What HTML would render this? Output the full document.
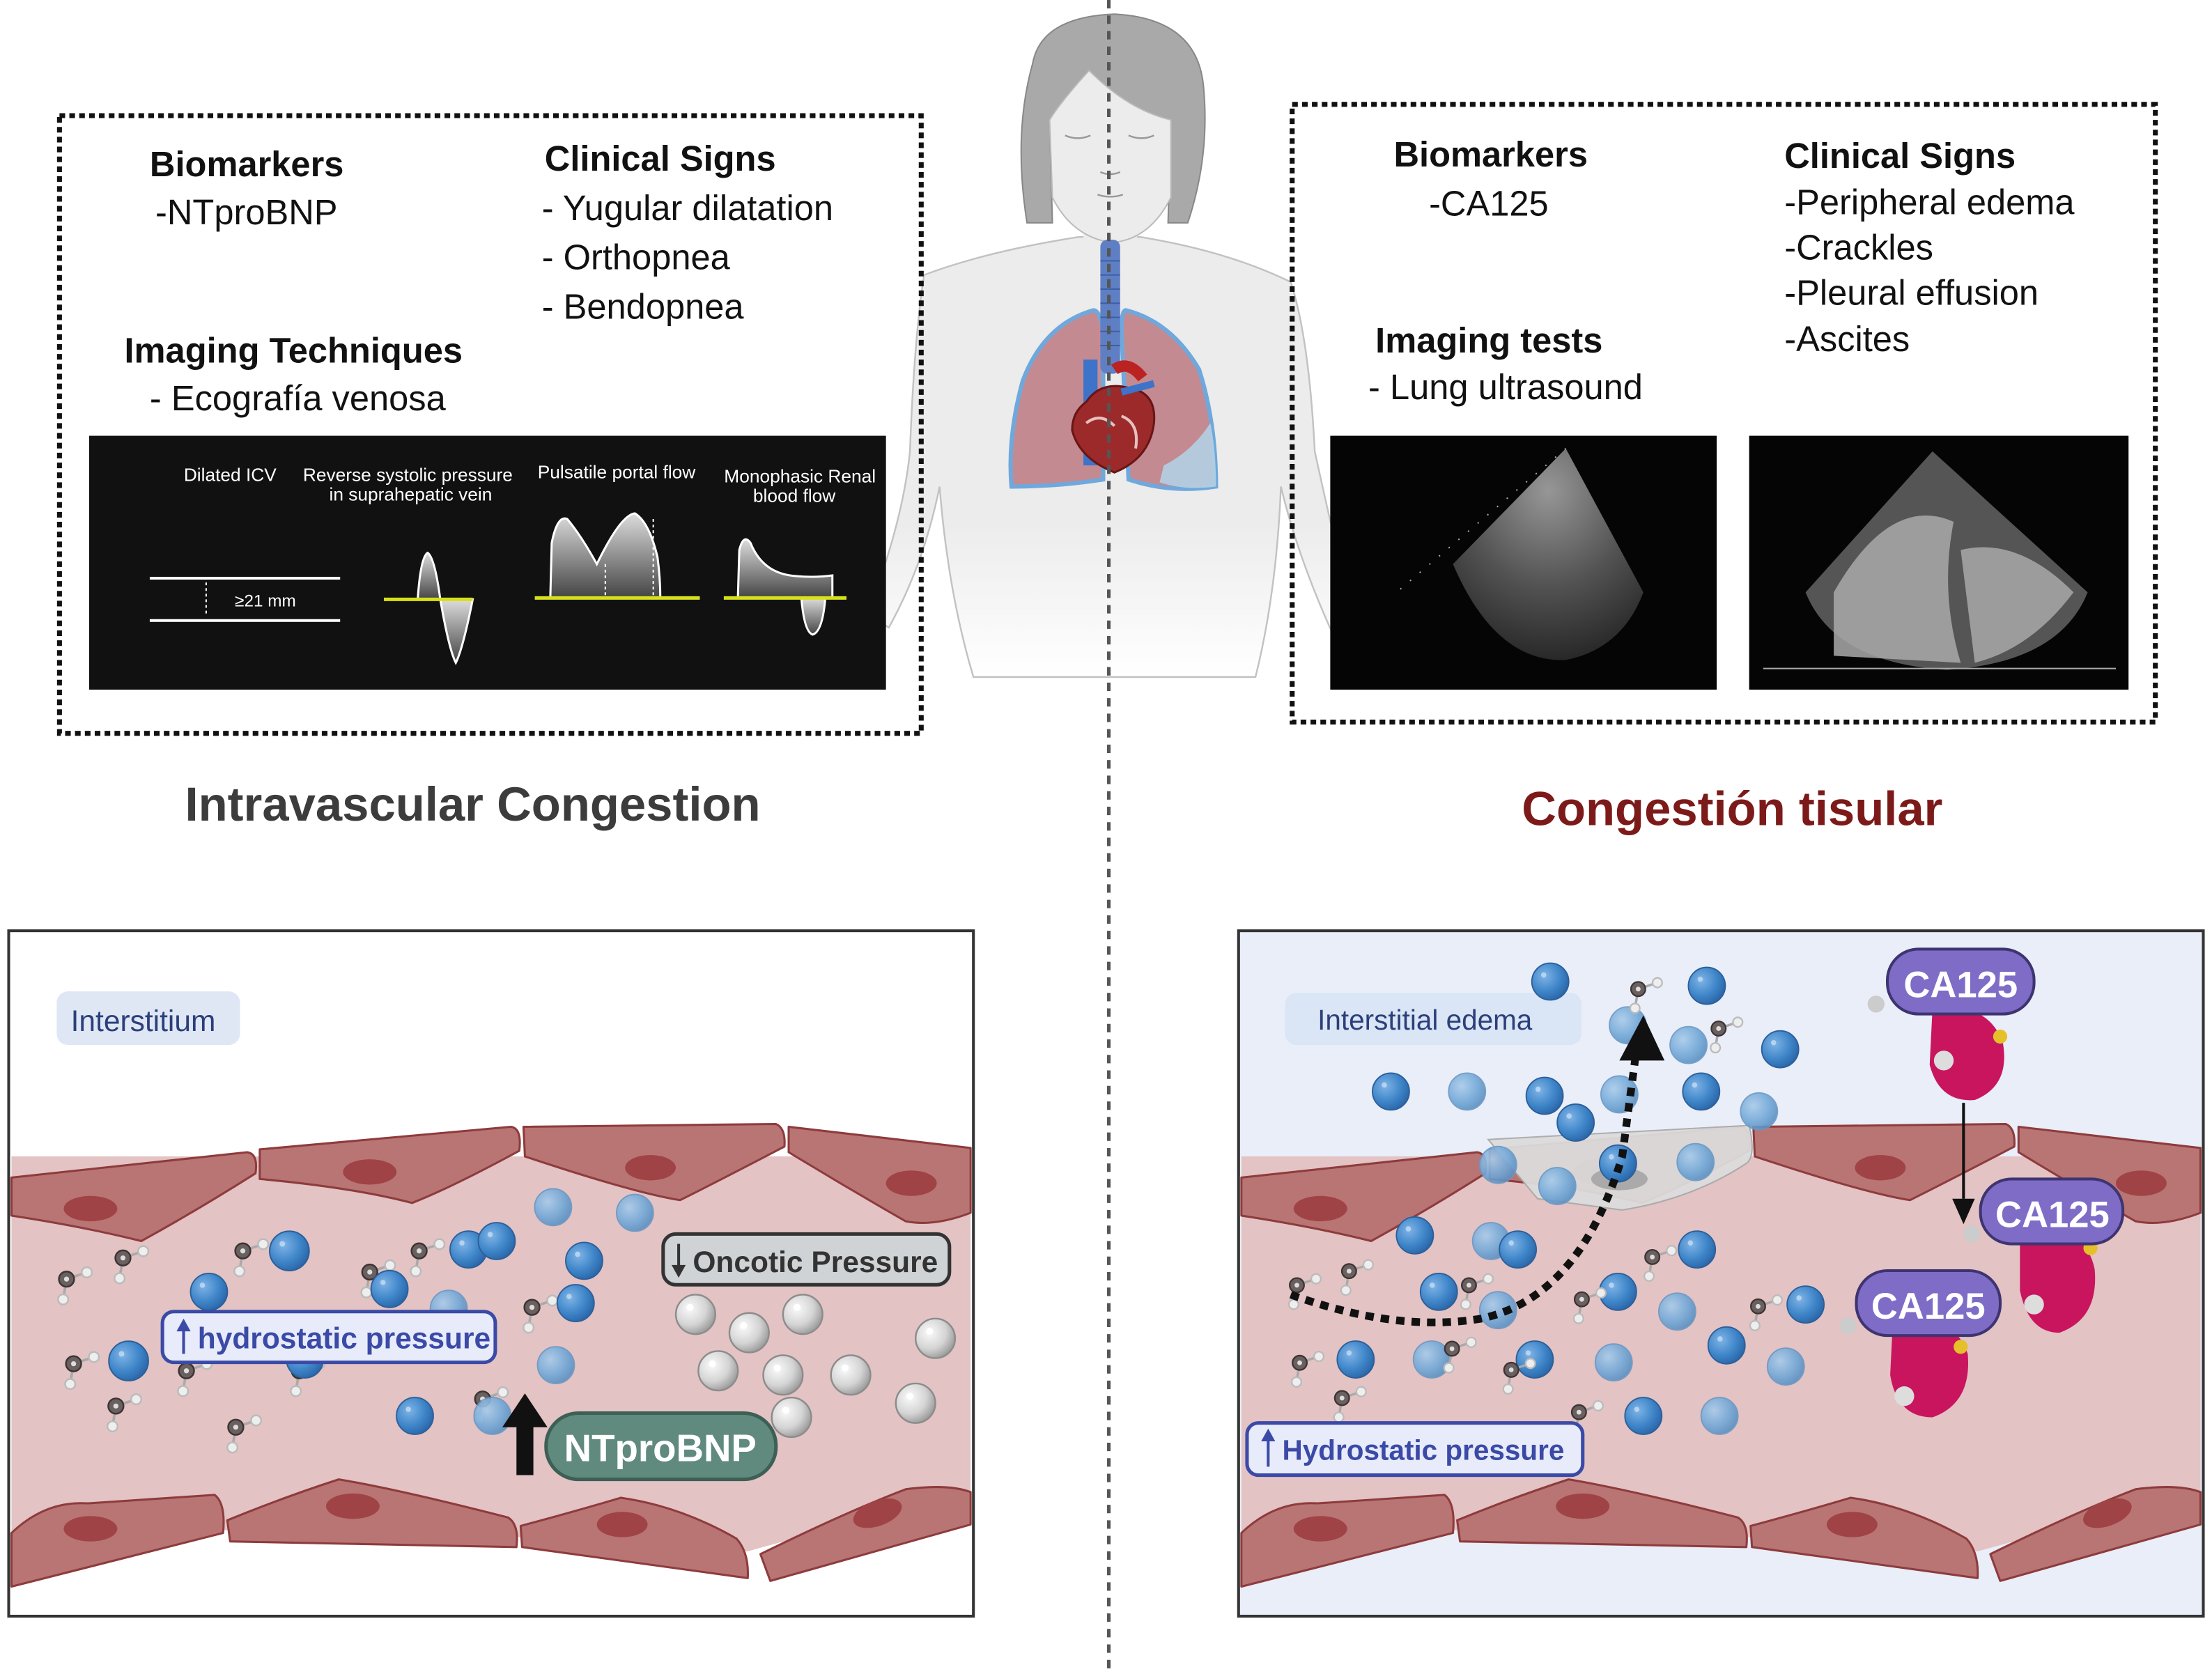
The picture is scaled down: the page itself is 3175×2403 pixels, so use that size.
<!DOCTYPE html>
<html><head><meta charset="utf-8">
<style>
html,body{margin:0;padding:0;background:#fff;}
svg{display:block;}
text{font-family:"Liberation Sans",sans-serif;}
</style></head>
<body>
<svg width="3175" height="2403" viewBox="0 0 1568 1187" xmlns="http://www.w3.org/2000/svg">
<defs>
 <radialGradient id="bs" cx="0.35" cy="0.35" r="0.7"><stop offset="0" stop-color="#7fb3e6"/><stop offset="0.6" stop-color="#3f86c9"/><stop offset="1" stop-color="#2a66a8"/></radialGradient>
 <radialGradient id="bl" cx="0.35" cy="0.35" r="0.7"><stop offset="0" stop-color="#a9cbea"/><stop offset="0.6" stop-color="#74a9d8"/><stop offset="1" stop-color="#5a8fc0"/></radialGradient>
 <radialGradient id="gs" cx="0.35" cy="0.35" r="0.7"><stop offset="0" stop-color="#fafafa"/><stop offset="0.6" stop-color="#d4d4d4"/><stop offset="1" stop-color="#9a9a9a"/></radialGradient>
 <radialGradient id="us" cx="0.5" cy="0.2" r="0.9"><stop offset="0" stop-color="#bbb"/><stop offset="0.5" stop-color="#666"/><stop offset="1" stop-color="#222"/></radialGradient>
 <linearGradient id="wave" x1="0" y1="0" x2="0" y2="1"><stop offset="0" stop-color="#ddd"/><stop offset="1" stop-color="#444"/></linearGradient>
 <linearGradient id="bodyfade" x1="0" y1="0" x2="0" y2="1"><stop offset="0.65" stop-color="#ececec"/><stop offset="1" stop-color="#fff"/></linearGradient>
 <symbol id="b" viewBox="0 0 30 30" overflow="visible"><circle cx="15" cy="15" r="14" fill="url(#bs)" stroke="#2c5f9a" stroke-width="1"/><circle cx="10" cy="10" r="2" fill="#cfe3f5" opacity="0.7"/></symbol>
 <symbol id="l" viewBox="0 0 30 30" overflow="visible"><circle cx="15" cy="15" r="14" fill="url(#bl)" stroke="#6a97c4" stroke-width="1" opacity="0.9"/></symbol>
 <symbol id="g" viewBox="0 0 30 30" overflow="visible"><circle cx="15" cy="15" r="14" fill="url(#gs)" stroke="#8c8c8c" stroke-width="1.2"/><circle cx="11" cy="10" r="2.5" fill="#fff"/></symbol>
 <symbol id="w" viewBox="0 0 30 30" overflow="visible"><line x1="10" y1="10" x2="22" y2="6" stroke="#aaa" stroke-width="1.5"/><line x1="10" y1="10" x2="8" y2="22" stroke="#aaa" stroke-width="1.5"/><circle cx="10" cy="10" r="4.5" fill="#6b6060" stroke="#3c3434"/><circle cx="10" cy="10" r="1.5" fill="#ddd"/><circle cx="22" cy="6" r="3" fill="#eee" stroke="#bbb"/><circle cx="8" cy="22" r="3" fill="#eee" stroke="#bbb"/></symbol>
 <g id="vessel">
  <path d="M8,820 H688 V1065 Q600,1080 530,1100 L370,1090 L160,1085 L8,1100 Z" fill="#e3c3c3"/>
  <g fill="#b87573" stroke="#8e3b3d" stroke-width="1.5" stroke-linejoin="round">
   <path d="M8,835 L175,817 Q183,818 181,832 Q140,858 100,880 Q60,870 8,862 Z"/>
   <path d="M184,815 L362,799 Q370,800 368,816 Q320,842 292,853 Q250,842 184,836 Z"/>
   <path d="M371,799 L550,797 Q557,800 556,813 Q512,836 482,851 Q450,846 372,820 Z"/>
   <path d="M559,799 L688,814 V860 Q662,870 642,866 Q600,842 559,817 Z"/>
   <path d="M8,1087 Q32,1064 62,1066 L152,1060 Q160,1066 158,1087 L8,1125 Z"/>
   <path d="M161,1078 Q200,1062 240,1049 Q282,1056 360,1076 Q368,1081 366,1097 L163,1093 Z"/>
   <path d="M369,1082 Q410,1071 440,1062 Q482,1068 522,1091 Q531,1101 530,1119 L370,1097 Z"/>
   <path d="M539,1102 Q600,1072 642,1056 Q672,1052 688,1058 V1081 L546,1121 Z"/>
  </g>
  <g fill="#a04346">
   <ellipse cx="64" cy="857" rx="19" ry="9"/><ellipse cx="262" cy="831" rx="19" ry="9"/>
   <ellipse cx="461" cy="828" rx="18" ry="9"/><ellipse cx="646" cy="839" rx="18" ry="9"/>
   <ellipse cx="64" cy="1084" rx="19" ry="9"/><ellipse cx="250" cy="1068" rx="19" ry="9"/>
   <ellipse cx="441" cy="1081" rx="18" ry="9"/><ellipse cx="622" cy="1073" rx="18" ry="9" transform="rotate(-20 622 1073)"/>
  </g>
 </g>
</defs>

<!-- Person -->
<g>
 <path d="M655,195 Q700,178 765,168 L808,168 Q870,178 915,200 Q928,240 932,320 Q945,380 960,440 L945,450 Q920,395 908,345 Q905,420 890,480 L690,480 Q672,420 666,345 Q655,400 630,445 L615,435 Q640,370 645,320 Q648,240 655,195 Z" fill="url(#bodyfade)" stroke="#c2c2c2" stroke-width="1.2"/>
 <rect x="768" y="130" width="38" height="45" fill="#ececec"/>
 <path d="M732,45 Q738,12 790,10 Q848,13 853,60 Q858,110 842,158 L828,158 L830,85 Q800,78 772,50 Q752,72 744,85 L746,158 L728,158 Q718,95 732,45 Z" fill="#a9a9a9" stroke="#888" stroke-width="1"/>
 <path d="M744,85 Q752,72 772,50 Q800,78 830,85 L830,140 Q815,170 788,172 Q760,168 746,140 Z" fill="#ececec" stroke="#bbb" stroke-width="1"/>
 <path d="M755,96 Q764,100 773,96 M800,96 Q809,100 818,96 M780,122 Q787,125 794,122 M778,138 Q787,141 796,138" stroke="#999" stroke-width="1.2" fill="none"/>
 <path d="M775,220 Q740,230 725,270 Q714,310 717,345 Q750,345 782,340 L782,235 Q780,220 775,220 Z" fill="#c48a92" stroke="#6fa8dc" stroke-width="3"/>
 <path d="M798,220 Q830,228 850,262 Q862,300 862,345 Q830,350 800,340 L795,235 Q795,220 798,220 Z" fill="#c48a92" stroke="#6fa8dc" stroke-width="3"/>
 <path d="M825,330 Q845,320 858,300 Q862,320 862,345 Q840,348 822,342 Z" fill="#b3d0e4" opacity="0.9"/>
 <rect x="780" y="170" width="14" height="95" rx="5" fill="#5f7fc4"/>
 <g stroke="#3e5ea6" stroke-width="1"><line x1="780" y1="185" x2="794" y2="185"/><line x1="780" y1="195" x2="794" y2="195"/><line x1="780" y1="205" x2="794" y2="205"/><line x1="780" y1="215" x2="794" y2="215"/><line x1="780" y1="225" x2="794" y2="225"/><line x1="780" y1="235" x2="794" y2="235"/><line x1="780" y1="245" x2="794" y2="245"/></g>
 <rect x="768" y="255" width="10" height="75" fill="#3d73c9"/>
 <path d="M790,262 Q800,255 810,268" stroke="#b22" stroke-width="8" fill="none"/>
 <path d="M770,285 Q780,270 800,275 Q820,278 818,300 Q815,325 790,335 Q765,325 760,305 Q760,292 770,285 Z" fill="#9c2a2a" stroke="#6a1515" stroke-width="1.5"/>
 <path d="M770,300 Q780,292 790,302 M795,295 Q808,300 805,318" stroke="#e7c0c0" stroke-width="2" fill="none"/>
 <line x1="795" y1="278" x2="818" y2="272" stroke="#3d73c9" stroke-width="5"/>
</g>
<line x1="786" y1="0" x2="786" y2="1187" stroke="#555" stroke-width="2.5" stroke-dasharray="6,5"/>

<!-- Left dotted box -->
<rect x="42" y="82" width="611" height="438" fill="#fff" fill-opacity="0" stroke="#111" stroke-width="3.5" stroke-dasharray="4,3"/>
<text x="106" y="125" font-size="25" font-weight="bold" fill="#111">Biomarkers</text>
<text x="110" y="159" font-size="25" fill="#111">-NTproBNP</text>
<text x="386" y="121" font-size="25" font-weight="bold" fill="#111">Clinical Signs</text>
<text x="384" y="156" font-size="25" fill="#111">- Yugular dilatation</text>
<text x="384" y="191" font-size="25" fill="#111">- Orthopnea</text>
<text x="384" y="226" font-size="25" fill="#111">- Bendopnea</text>
<text x="88" y="257" font-size="25" font-weight="bold" fill="#111">Imaging Techniques</text>
<text x="106" y="291" font-size="25" fill="#111">- Ecografía venosa</text>

<rect x="63" y="309" width="565" height="180" fill="#111"/>
<g fill="#fff" font-size="13" text-anchor="middle">
 <text x="163" y="341">Dilated ICV</text>
 <text x="289" y="341">Reverse systolic pressure</text>
 <text x="291" y="355">in suprahepatic vein</text>
 <text x="437" y="339">Pulsatile portal flow</text>
 <text x="567" y="342">Monophasic Renal</text>
 <text x="563" y="356">blood flow</text>
 <text x="188" y="430" font-size="12">≥21 mm</text>
</g>
<line x1="106" y1="410" x2="241" y2="410" stroke="#fff" stroke-width="2"/>
<line x1="106" y1="440" x2="241" y2="440" stroke="#fff" stroke-width="2"/>
<line x1="146" y1="413" x2="146" y2="437" stroke="#fff" stroke-width="1" stroke-dasharray="2,2"/>
<path d="M272,425 L296,425 Q298,395 303,392 Q308,395 312,425 Z" fill="url(#wave)" stroke="#fff" stroke-width="1.5"/>
<path d="M312,425 L335,425 Q328,460 323,470 Q318,460 312,425 Z" fill="url(#wave)" stroke="#fff" stroke-width="1.5"/>
<path d="M390,424 L391,385 Q395,365 402,368 Q412,380 423,400 Q440,365 450,364 Q460,370 466,395 Q468,410 468,424 Z" fill="url(#wave)" stroke="#fff" stroke-width="1.5"/>
<line x1="429" y1="400" x2="429" y2="424" stroke="#fff" stroke-dasharray="2,2"/>
<line x1="463" y1="368" x2="463" y2="424" stroke="#fff" stroke-dasharray="2,2"/>
<path d="M523,424 L524,390 Q527,378 532,385 Q540,405 560,408 Q575,410 590,408 L590,424 Z" fill="url(#wave)" stroke="#fff" stroke-width="1.5"/>
<path d="M568,424 L585,424 Q583,448 576,450 Q570,448 568,424 Z" fill="url(#wave)" stroke="#fff" stroke-width="1.5"/>
<g stroke="#d6e11a" stroke-width="2.5"><line x1="272" y1="425" x2="335" y2="425"/><line x1="379" y1="424" x2="496" y2="424"/><line x1="513" y1="424" x2="600" y2="424"/></g>

<!-- Right dotted box -->
<rect x="916" y="74" width="612" height="438" fill="none" stroke="#111" stroke-width="3.5" stroke-dasharray="4,3"/>
<text x="988" y="118" font-size="25" font-weight="bold" fill="#111">Biomarkers</text>
<text x="1013" y="153" font-size="25" fill="#111">-CA125</text>
<text x="1265" y="119" font-size="25" font-weight="bold" fill="#111">Clinical Signs</text>
<text x="1265" y="152" font-size="25" fill="#111">-Peripheral edema</text>
<text x="1265" y="184" font-size="25" fill="#111">-Crackles</text>
<text x="1265" y="216" font-size="25" fill="#111">-Pleural effusion</text>
<text x="1265" y="249" font-size="25" fill="#111">-Ascites</text>
<text x="975" y="250" font-size="25" font-weight="bold" fill="#111">Imaging tests</text>
<text x="970" y="283" font-size="25" fill="#111">- Lung ultrasound</text>
<rect x="943" y="309" width="274" height="180" fill="#050505"/>
<path d="M1110,318 L1030,400 Q1060,470 1110,468 Q1150,460 1165,420 Z" fill="url(#us)" opacity="0.8"/>
<line x1="1110" y1="318" x2="990" y2="420" stroke="#aaa" stroke-width="1" stroke-dasharray="1,8"/>
<rect x="1240" y="309" width="269" height="180" fill="#050505"/>
<path d="M1370,320 L1280,420 Q1300,470 1380,475 Q1460,470 1480,420 Z" fill="#555"/>
<path d="M1300,420 Q1340,350 1385,370 Q1375,420 1390,470 L1300,465 Z" fill="#aaa" opacity="0.85"/>
<path d="M1390,390 Q1430,380 1470,420 Q1440,460 1400,470 Z" fill="#bbb" opacity="0.7"/>
<line x1="1250" y1="474" x2="1500" y2="474" stroke="#aaa" stroke-width="1"/>

<text x="335" y="582" font-size="34" font-weight="bold" fill="#3c3c3c" text-anchor="middle">Intravascular Congestion</text>
<text x="1228" y="585" font-size="34" font-weight="bold" fill="#7c1a1a" text-anchor="middle">Congestión tisular</text>

<!-- Bottom left panel -->
<rect x="6" y="660" width="684" height="486" fill="#fff"/>
<use href="#vessel"/>
<rect x="6" y="660" width="684" height="486" fill="none" stroke="#333" stroke-width="2"/>
<rect x="40" y="703" width="130" height="38" rx="8" fill="#dfe7f5"/>
<text x="50" y="731" font-size="21" fill="#2b3f7a">Interstitium</text>
<g>
 <use href="#w" x="35" y="895" width="36" height="36"/><use href="#w" x="75" y="880" width="36" height="36"/>
 <use href="#w" x="160" y="875" width="36" height="36"/><use href="#w" x="250" y="890" width="36" height="36"/>
 <use href="#w" x="285" y="875" width="36" height="36"/><use href="#w" x="40" y="955" width="36" height="36"/>
 <use href="#w" x="70" y="985" width="36" height="36"/><use href="#w" x="155" y="1000" width="36" height="36"/>
 <use href="#w" x="365" y="915" width="36" height="36"/><use href="#w" x="330" y="980" width="36" height="36"/>
 <use href="#w" x="120" y="960" width="36" height="36"/><use href="#w" x="200" y="960" width="36" height="36"/>
 <use href="#l" x="378" y="842" width="28" height="28"/><use href="#l" x="436" y="846" width="28" height="28"/>
 <use href="#b" x="190" y="872" width="30" height="30"/><use href="#b" x="318" y="872" width="28" height="28"/>
 <use href="#b" x="338" y="866" width="28" height="28"/><use href="#b" x="400" y="880" width="28" height="28"/>
 <use href="#b" x="394" y="910" width="28" height="28"/><use href="#b" x="134" y="902" width="28" height="28"/>
 <use href="#b" x="262" y="900" width="28" height="28"/><use href="#l" x="304" y="914" width="28" height="28"/>
 <use href="#b" x="76" y="950" width="30" height="30"/><use href="#l" x="380" y="954" width="28" height="28"/>
 <use href="#b" x="280" y="990" width="28" height="28"/><use href="#l" x="335" y="990" width="28" height="28"/>
 <use href="#b" x="202" y="950" width="28" height="28"/>
 <use href="#g" x="478" y="917" width="30" height="30"/><use href="#g" x="516" y="930" width="30" height="30"/>
 <use href="#g" x="554" y="917" width="30" height="30"/><use href="#g" x="494" y="957" width="30" height="30"/>
 <use href="#g" x="540" y="960" width="30" height="30"/><use href="#g" x="588" y="960" width="30" height="30"/>
 <use href="#g" x="648" y="934" width="30" height="30"/><use href="#g" x="634" y="980" width="30" height="30"/>
 <use href="#g" x="546" y="990" width="30" height="30"/>
</g>
<rect x="470" y="875" width="203" height="36" rx="9" fill="#cfd3d6" stroke="#333" stroke-width="2.5"/>
<path d="M481,882 V900" stroke="#333" stroke-width="2"/><path d="M476,897 L481,906 L486,897 Z" fill="#333"/>
<text x="491" y="902" font-size="21" font-weight="bold" fill="#333">Oncotic Pressure</text>
<rect x="115" y="930" width="236" height="36" rx="8" fill="#e8ebfa" stroke="#3a4aa6" stroke-width="2.5"/>
<path d="M130,960 V942" stroke="#3a4aa6" stroke-width="2"/><path d="M125,944 L130,935 L135,944 Z" fill="#3a4aa6"/>
<text x="140" y="956" font-size="21" font-weight="bold" fill="#3a4aa6">hydrostatic pressure</text>
<path d="M366,1046 L366,1012 L356,1012 L372,988 L388,1012 L378,1012 L378,1046 Z" fill="#111"/>
<rect x="387" y="1002" width="163" height="47" rx="23" fill="#5f8a7d" stroke="#3d5f55" stroke-width="2.5"/>
<text x="468" y="1036" font-size="27" font-weight="bold" fill="#fff" text-anchor="middle">NTproBNP</text>

<!-- Bottom right panel -->
<rect x="878" y="660" width="684" height="486" fill="#e9eef9"/>
<g transform="translate(872,0)"><use href="#vessel"/></g>
<path d="M1055,808 L1240,798 Q1245,820 1238,825 Q1200,850 1150,858 L1090,850 Z" fill="#dcdcdc" stroke="#aaa" stroke-width="1" opacity="0.95"/>
<ellipse cx="1148" cy="836" rx="20" ry="8" fill="#aaa"/>
<rect x="878" y="660" width="684" height="486" fill="none" stroke="#333" stroke-width="2"/>
<rect x="911" y="704" width="210" height="37" rx="8" fill="#dae5f5"/>
<text x="934" y="730" font-size="20" fill="#2b3f7a">Interstitial edema</text>
<g>
 <use href="#b" x="1085" y="682" width="28" height="28"/><use href="#b" x="1196" y="685" width="28" height="28"/>
 <use href="#l" x="1140" y="713" width="28" height="28"/><use href="#l" x="1183" y="727" width="28" height="28"/>
 <use href="#b" x="1248" y="730" width="28" height="28"/><use href="#b" x="972" y="760" width="28" height="28"/>
 <use href="#l" x="1026" y="760" width="28" height="28"/><use href="#b" x="1081" y="763" width="28" height="28"/>
 <use href="#l" x="1134" y="762" width="28" height="28"/><use href="#b" x="1192" y="760" width="28" height="28"/>
 <use href="#l" x="1233" y="774" width="28" height="28"/><use href="#b" x="1103" y="782" width="28" height="28"/>
 <use href="#l" x="1048" y="812" width="28" height="28"/><use href="#b" x="1133" y="811" width="28" height="28"/>
 <use href="#l" x="1188" y="810" width="28" height="28"/><use href="#l" x="1090" y="827" width="28" height="28"/>
 <use href="#w" x="1150" y="690" width="34" height="34"/><use href="#w" x="1207" y="718" width="34" height="34"/>
 <use href="#b" x="989" y="862" width="28" height="28"/><use href="#l" x="1043" y="866" width="28" height="28"/>
 <use href="#b" x="1062" y="872" width="28" height="28"/><use href="#b" x="1189" y="872" width="28" height="28"/>
 <use href="#b" x="1006" y="902" width="28" height="28"/><use href="#l" x="1048" y="915" width="28" height="28"/>
 <use href="#b" x="1133" y="902" width="28" height="28"/><use href="#l" x="1175" y="916" width="28" height="28"/>
 <use href="#b" x="1266" y="911" width="28" height="28"/><use href="#b" x="1210" y="940" width="28" height="28"/>
 <use href="#b" x="947" y="950" width="28" height="28"/><use href="#l" x="1001" y="950" width="28" height="28"/>
 <use href="#b" x="1074" y="950" width="28" height="28"/><use href="#l" x="1130" y="952" width="28" height="28"/>
 <use href="#l" x="1252" y="955" width="28" height="28"/><use href="#b" x="1151" y="990" width="28" height="28"/>
 <use href="#l" x="1205" y="990" width="28" height="28"/>
 <use href="#w" x="908" y="900" width="34" height="34"/><use href="#w" x="945" y="890" width="34" height="34"/>
 <use href="#w" x="1030" y="900" width="34" height="34"/><use href="#w" x="1110" y="910" width="34" height="34"/>
 <use href="#w" x="1160" y="880" width="34" height="34"/><use href="#w" x="1235" y="915" width="34" height="34"/>
 <use href="#w" x="910" y="955" width="34" height="34"/><use href="#w" x="1060" y="960" width="34" height="34"/>
 <use href="#w" x="1018" y="945" width="34" height="34"/><use href="#w" x="1108" y="990" width="34" height="34"/>
 <use href="#w" x="940" y="980" width="34" height="34"/>
</g>
<path d="M915,918 Q990,945 1050,935 Q1120,920 1150,820 L1160,745" stroke="#111" stroke-width="5.5" fill="none" stroke-dasharray="6,5"/>
<path d="M1148,752 L1165,720 L1180,752 Z" fill="#111"/>
<rect x="884" y="1009" width="238" height="37" rx="8" fill="#e8ebfa" stroke="#3a4aa6" stroke-width="2.5"/>
<path d="M899,1040 V1020" stroke="#3a4aa6" stroke-width="2"/><path d="M894,1022 L899,1013 L904,1022 Z" fill="#3a4aa6"/>
<text x="909" y="1035" font-size="20" font-weight="bold" fill="#3a4aa6">Hydrostatic pressure</text>
<g>
 <path d="M1370,715 Q1410,710 1420,740 Q1425,770 1400,780 Q1375,782 1368,755 Z" fill="#c8155e"/>
 <circle cx="1378" cy="752" r="7" fill="#ddd"/><circle cx="1418" cy="735" r="5" fill="#e5c02a"/>
 <path d="M1432,870 Q1478,866 1485,900 Q1488,935 1460,945 Q1438,945 1432,915 Z" fill="#c8155e"/>
 <circle cx="1442" cy="925" r="7" fill="#ddd"/><circle cx="1482" cy="885" r="5" fill="#e5c02a"/>
 <path d="M1342,935 Q1385,930 1395,960 Q1398,995 1370,1005 Q1345,1005 1340,975 Z" fill="#c8155e"/>
 <circle cx="1350" cy="990" r="7" fill="#ddd"/><circle cx="1390" cy="955" r="5" fill="#e5c02a"/>
 <circle cx="1330" cy="712" r="6" fill="#ccc"/><circle cx="1398" cy="875" r="6" fill="#ccc"/><circle cx="1310" cy="940" r="6" fill="#ccc"/>
</g>
<line x1="1392" y1="782" x2="1392" y2="850" stroke="#111" stroke-width="2"/>
<path d="M1384,850 L1400,850 L1392,868 Z" fill="#111"/>
<g font-size="26" font-weight="bold" fill="#fff" text-anchor="middle">
 <rect x="1338" y="673" width="104" height="46" rx="22" fill="#7e6cc7" stroke="#3e3470" stroke-width="2"/>
 <text x="1390" y="707">CA125</text>
 <rect x="1404" y="836" width="101" height="46" rx="22" fill="#7e6cc7" stroke="#3e3470" stroke-width="2"/>
 <text x="1455" y="870">CA125</text>
 <rect x="1316" y="901" width="102" height="46" rx="22" fill="#7e6cc7" stroke="#3e3470" stroke-width="2"/>
 <text x="1367" y="935">CA125</text>
</g>
</svg>
</body></html>
